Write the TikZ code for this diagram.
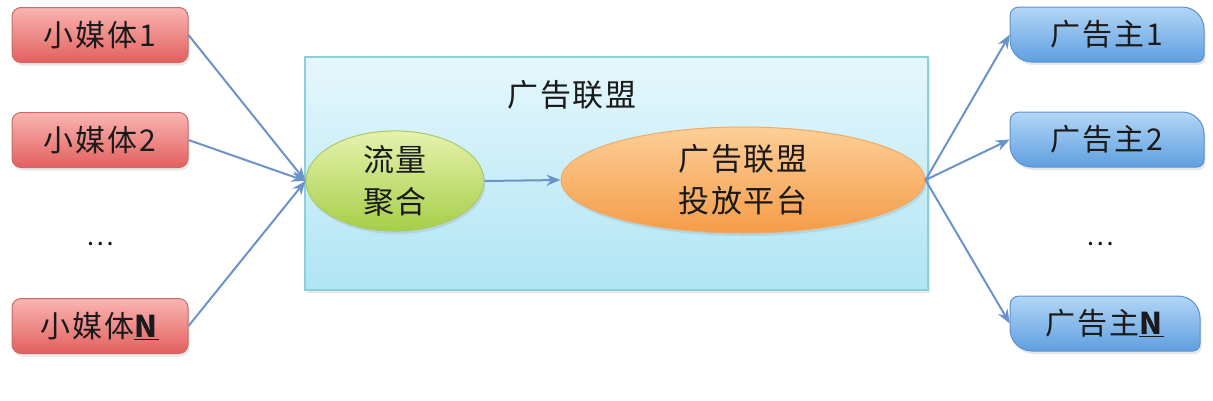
\documentclass[tikz,border=0pt]{standalone}
\usepackage{fontspec}
\setmainfont{Noto Sans CJK SC}[LetterSpace=6]
\usetikzlibrary{shapes.geometric,arrows.meta,shadows}
\definecolor{arrowc}{HTML}{6B93C8}
\definecolor{redtop}{HTML}{F9B5B2}
\definecolor{redbot}{HTML}{E2605E}
\definecolor{redline}{HTML}{C96A68}
\definecolor{bluetop}{HTML}{B3D6F6}
\definecolor{bluebot}{HTML}{5F9FE0}
\definecolor{blueline}{HTML}{5F8FCF}
\definecolor{cyantop}{HTML}{E6F7FC}
\definecolor{cyanbot}{HTML}{B0E5F4}
\definecolor{cyanline}{HTML}{8FCFD9}
\definecolor{greentop}{HTML}{E6F2AE}
\definecolor{greenbot}{HTML}{A6CE48}
\definecolor{greenline}{HTML}{A9C965}
\definecolor{orangetop}{HTML}{FCCF98}
\definecolor{orangebot}{HTML}{F59C48}
\definecolor{orangeline}{HTML}{EFAA66}
\definecolor{textc}{HTML}{1A1A1A}
\tikzset{
  x=1pt, y=1pt,
  softshadow/.style={drop shadow={opacity=0.18, shadow xshift=1.5pt, shadow yshift=-3pt}},
  mediabox/.style={draw=redline, line width=1pt, rounded corners=9pt,
    top color=redtop, bottom color=redbot, minimum width=176pt, minimum height=55pt,
    inner sep=0pt, text=textc, font=\fontsize{30}{34}\selectfont, softshadow},
  adspot/.style={draw=none, minimum width=194pt, minimum height=55pt, inner sep=0pt,
    text=textc, font=\fontsize{30}{34}\selectfont},
  adshape/.style n args={4}{insert path={
    (#1+9,#2) -- (#3-22,#2) arc[start angle=90,end angle=0,radius=22pt]
    -- (#3,#4+7) arc[start angle=0,end angle=-90,radius=7pt]
    -- (#1+22,#4) arc[start angle=270,end angle=180,radius=22pt]
    -- (#1,#2-9) arc[start angle=180,end angle=90,radius=9pt] -- cycle}},
  adfill/.style={draw=blueline, line width=1pt, top color=bluetop, bottom color=bluebot, softshadow},
  flow/.style={draw=arrowc, line width=2pt, -{Stealth[length=14pt,width=11pt]}},
  dots/.style={text=textc, font=\fontsize{26}{28}\selectfont},
  ovaltext/.style={text=textc, font=\fontsize{31}{42}\selectfont, align=center, inner sep=0pt}
}
\begin{document}
\begin{tikzpicture}
\useasboundingbox (0,0) rectangle (1213,-400);
% big union box
\node (union) [draw=cyanline, line width=1.5pt, top color=cyantop, bottom color=cyanbot,
  minimum width=623pt, minimum height=233pt, inner sep=0pt, softshadow] at (616.5,-173.5) {};
\node (title) [text=textc, font=\fontsize{31}{36}\selectfont, inner sep=0pt] at (572,-95) {广告联盟};
% ellipses
\node (agg) [ellipse, draw=greenline, line width=1pt, top color=greentop, bottom color=greenbot,
  minimum width=178pt, minimum height=88pt, ovaltext, softshadow] at (395,-181) {流量\\聚合};
\node (plat) [ellipse, draw=orangeline, line width=1pt, top color=orangetop, bottom color=orangebot,
  minimum width=364pt, minimum height=106pt, ovaltext, softshadow] at (743,-180) {广告联盟\\投放平台};
% media boxes
\node (m1) [mediabox] at (100,-35) {小媒体1};
\node (m2) [mediabox] at (100,-140) {小媒体2};
\node (md) [dots] at (100,-244) {…};
\node (mN) [mediabox] at (100,-326) {小媒体\underline{\textbf{N}}};
% advertiser boxes
\path[adfill, adshape={1010}{-7}{1204}{-62}];
\path[adfill, adshape={1010}{-112}{1204}{-167}];
\path[adfill, adshape={1010}{-296}{1200}{-351}];
\node (a1) [adspot] at (1107,-34.5) {广告主1};
\node (a2) [adspot] at (1107,-139.5) {广告主2};
\node (ad) [dots] at (1100,-244) {…};
\node (aN) [adspot, minimum width=190pt] at (1105,-323.5) {广告主\underline{\textbf{N}}};
% connectors
\draw[flow] (m1.east) -- (agg.west);
\draw[flow] (m2.east) -- (agg.west);
\draw[flow] (mN.east) -- (agg.west);
\draw[flow] (agg.east) -- (plat.west);
\draw[flow] (plat.east) -- (a1.west);
\draw[flow] (plat.east) -- (a2.west);
\draw[flow] (plat.east) -- (aN.west);
\end{tikzpicture}
\end{document}
